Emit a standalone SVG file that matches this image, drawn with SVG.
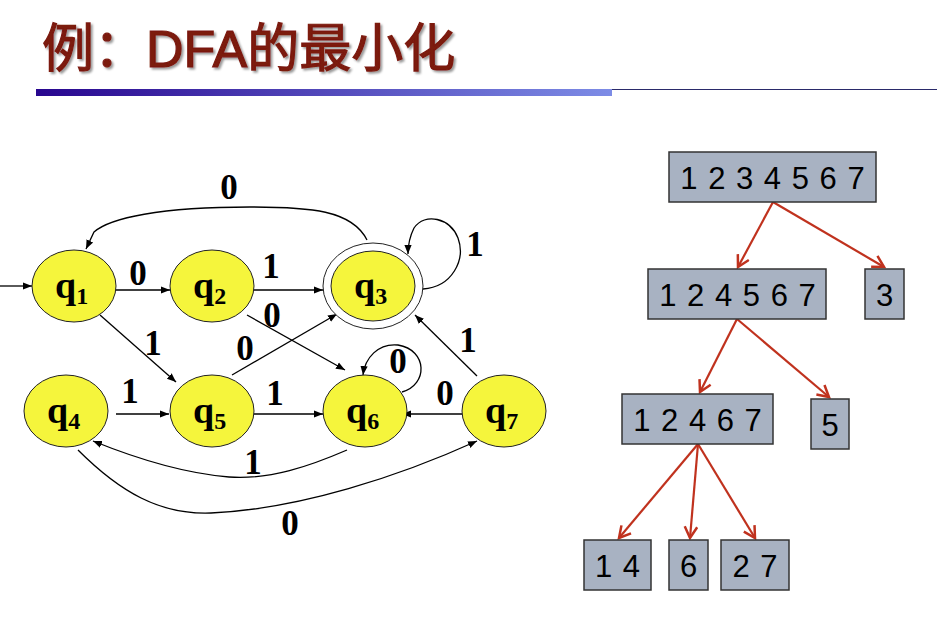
<svg xmlns="http://www.w3.org/2000/svg" width="937" height="618" viewBox="0 0 937 618">
<defs>
<linearGradient id="bar" x1="0" x2="1" y1="0" y2="0">
<stop offset="0" stop-color="#28068f"/>
<stop offset="1" stop-color="#7d8ce6"/>
</linearGradient>
<marker id="ah" viewBox="0 0 10 10" refX="10" refY="5" markerWidth="9" markerHeight="9" markerUnits="userSpaceOnUse" orient="auto">
<path d="M0,1 L10,5 L0,9 Z" fill="#000"/>
</marker>
<marker id="rh" viewBox="0 0 12 12" refX="10" refY="6" markerWidth="15" markerHeight="15" markerUnits="userSpaceOnUse" orient="auto">
<path d="M1,1 L10,6 L1,11" fill="none" stroke="#c0321e" stroke-width="2"/>
</marker>
<filter id="sh" x="-5%" y="-5%" width="110%" height="120%">
<feDropShadow dx="2" dy="2" stdDeviation="1" flood-color="#000" flood-opacity="0.4"/>
</filter>
</defs>
<style>
.st{fill:#f5f53c;stroke:#222;stroke-width:1}
.ql{font-family:"Liberation Serif",serif;font-weight:bold;font-size:38px;fill:#000}
.qs{font-size:24px}
.el{font-family:"Liberation Serif",serif;font-weight:bold;font-size:35px;fill:#000;text-anchor:middle}
.e{fill:none;stroke:#000;stroke-width:1.3;marker-end:url(#ah)}
.bx{fill:#a8b2c2;stroke:#333;stroke-width:1.5}
.bt{font-family:"Liberation Sans",Arial,sans-serif;font-size:31px;fill:#000;text-anchor:middle;letter-spacing:1px}
.r{fill:none;stroke:#c0321e;stroke-width:2.2;marker-end:url(#rh)}
</style>
<rect width="937" height="618" fill="#fff"/>
<g id="title">
<text x="42" y="67" font-family="'Liberation Sans','Noto Sans CJK SC',sans-serif" font-size="52" fill="#7b1a10" stroke="#7b1a10" stroke-width="1.2" filter="url(#sh)">例：DFA的最小化</text>
<rect x="36" y="89" width="576" height="7" fill="url(#bar)"/>
<line x1="612" y1="89.5" x2="937" y2="89.5" stroke="#2a2a6a" stroke-width="1"/>
</g>
<g id="connectors">
<line class="e" x1="0" y1="286" x2="32" y2="286"/>
<line class="e" x1="116" y1="290" x2="170" y2="290"/>
<line class="e" x1="254" y1="290" x2="323" y2="290"/>
<path class="e" d="M367,240 C352,210 310,207 250,207 C160,207 110,218 94,232 L86,249"/>
<path class="e" d="M423,289 C452,287 466,260 458,238 C450,218 425,212 414,228 C410,236 408,244 408,254"/>
<line class="e" x1="100" y1="315" x2="176" y2="382"/>
<line class="e" x1="247" y1="315" x2="345" y2="370"/>
<line class="e" x1="232" y1="375" x2="337" y2="314"/>
<line class="e" x1="477" y1="376" x2="415" y2="315"/>
<line class="e" x1="116" y1="414" x2="169" y2="414"/>
<line class="e" x1="254" y1="414" x2="323" y2="414"/>
<line class="e" x1="462" y1="414" x2="402" y2="414"/>
<path class="e" d="M402,392 C428,385 428,350 398,345 C378,343 365,358 363,375"/>
<path class="e" d="M347,450 C310,466 270,480 229,477 C180,473 130,456 93,441"/>
<path class="e" d="M78,450 C120,492 160,515 211,513 C300,509 400,476 477,441"/>
</g>
<g id="edge-labels">
<text class="el" x="229" y="199">0</text>
<text class="el" x="138" y="285">0</text>
<text class="el" x="271" y="278">1</text>
<text class="el" x="475" y="256">1</text>
<text class="el" x="272" y="327">0</text>
<text class="el" x="153" y="355">1</text>
<text class="el" x="245" y="360">0</text>
<text class="el" x="468" y="352">1</text>
<text class="el" x="398" y="373">0</text>
<text class="el" x="130" y="403">1</text>
<text class="el" x="275" y="405">1</text>
<text class="el" x="445" y="405">0</text>
<text class="el" x="253" y="474">1</text>
<text class="el" x="290" y="535">0</text>
</g>
<g id="q1"><ellipse class="st" cx="74" cy="286" rx="42" ry="36"/><text class="ql" x="55" y="298">q<tspan class="qs" dy="6">1</tspan></text></g>
<g id="q2"><ellipse class="st" cx="212" cy="286" rx="42" ry="36"/><text class="ql" x="193" y="298">q<tspan class="qs" dy="6">2</tspan></text></g>
<g id="q3"><ellipse cx="373" cy="286" rx="50" ry="43" fill="#fff" stroke="#222" stroke-width="1"/><ellipse class="st" cx="373" cy="286" rx="42" ry="35"/><text class="ql" x="354" y="298">q<tspan class="qs" dy="6">3</tspan></text></g>
<g id="q4"><ellipse class="st" cx="66" cy="411" rx="42" ry="36"/><text class="ql" x="47" y="423">q<tspan class="qs" dy="6">4</tspan></text></g>
<g id="q5"><ellipse class="st" cx="212" cy="411" rx="42" ry="36"/><text class="ql" x="193" y="423">q<tspan class="qs" dy="6">5</tspan></text></g>
<g id="q6"><ellipse class="st" cx="365" cy="411" rx="42" ry="36"/><text class="ql" x="346" y="423">q<tspan class="qs" dy="6">6</tspan></text></g>
<g id="q7"><ellipse class="st" cx="504" cy="411" rx="42" ry="36"/><text class="ql" x="485" y="423">q<tspan class="qs" dy="6">7</tspan></text></g>
<g id="tree-connectors">
<line class="r" x1="773" y1="202" x2="738" y2="267"/>
<line class="r" x1="773" y1="202" x2="884" y2="267"/>
<line class="r" x1="737" y1="319" x2="700" y2="392"/>
<line class="r" x1="737" y1="319" x2="829" y2="397"/>
<line class="r" x1="698" y1="444" x2="619" y2="538"/>
<line class="r" x1="698" y1="444" x2="690" y2="538"/>
<line class="r" x1="698" y1="444" x2="755" y2="538"/>
</g>
<g id="b1234567"><rect class="bx" x="669" y="152" width="207" height="50"/><text class="bt" x="773" y="189">1 2 3 4 5 6 7</text></g>
<g id="b124567"><rect class="bx" x="648" y="269" width="178" height="50"/><text class="bt" x="738" y="306">1 2 4 5 6 7</text></g>
<g id="b3"><rect class="bx" x="865" y="269" width="39" height="50"/><text class="bt" x="885" y="306">3</text></g>
<g id="b12467"><rect class="bx" x="622" y="394" width="151" height="50"/><text class="bt" x="698" y="431">1 2 4 6 7</text></g>
<g id="b5"><rect class="bx" x="811" y="399" width="38" height="50"/><text class="bt" x="830.5" y="436">5</text></g>
<g id="b14"><rect class="bx" x="584" y="540" width="67" height="50"/><text class="bt" x="618" y="577">1 4</text></g>
<g id="b6"><rect class="bx" x="669" y="540" width="39" height="50"/><text class="bt" x="689" y="577">6</text></g>
<g id="b27"><rect class="bx" x="721" y="540" width="68" height="50"/><text class="bt" x="755.5" y="577">2 7</text></g>
</svg>
